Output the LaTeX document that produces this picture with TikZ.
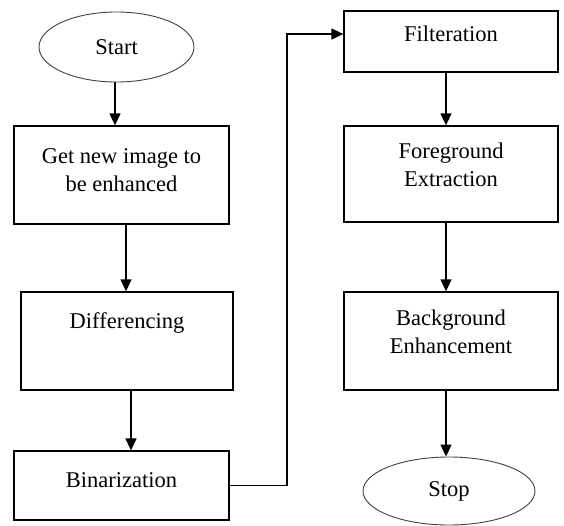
\documentclass[tikz,border=0pt]{standalone}
\usepackage{fontspec}
\setmainfont{Liberation Serif}
\usetikzlibrary{arrows.meta,shapes.geometric}
\tikzset{
  block/.style={rectangle,draw,line width=1.3pt,minimum width=214pt,align=center,
    inner sep=0pt,font=\fontsize{22.5}{28}\selectfont},
  term/.style={ellipse,draw=black!75,line width=0.9pt,inner sep=0pt,
    font=\fontsize{22.5}{28}\selectfont},
  arr/.style={-{Triangle[length=12pt,width=11pt]},line width=1.3pt}
}
\begin{document}
\begin{tikzpicture}[x=1pt,y=-1pt]
        \useasboundingbox (0,0) rectangle (564,525);

        % Left column
        \node[term,minimum width=155pt,minimum height=70pt] (start) at (116.5,47) {Start};
        \node[block,minimum width=215pt,minimum height=98pt,text depth=10pt] (getimg) at (121.5,175) {Get new image to\\be enhanced};
        \node[block,minimum width=212pt,minimum height=98pt,text depth=40pt] (diff) at (127,341) {Differencing};
        \node[block,minimum width=215pt,minimum height=69pt,text depth=10pt] (binar) at (121.5,485.5) {Binarization};

        \draw[arr] ([xshift=-1.5pt]start.south) -- ([xshift=-6.5pt]getimg.north);
        \draw[arr] ([xshift=4.5pt]getimg.south) -- ([xshift=-1pt]diff.north);
        \draw[arr] ([xshift=4pt]diff.south) -- ([xshift=9.5pt]binar.north);

        % Right column
        \node[block,minimum height=61pt,text depth=16pt] (filter) at (451,41.5) {Filteration};
        \node[block,minimum height=96pt,text depth=19pt] (fgext) at (451,174) {Foreground\\Extraction};
        \node[block,minimum height=98pt,text depth=18pt] (bgenh) at (451,341) {Background\\Enhancement};
        \node[term,minimum width=172pt,minimum height=68pt] (stop) at (449,491) {Stop};

        \draw[arr] ([xshift=-5pt]filter.south) -- ([xshift=-5pt]fgext.north);
        \draw[arr] ([xshift=-5pt]fgext.south) -- ([xshift=-5pt]bgenh.north);
        \draw[arr] ([xshift=-5pt]bgenh.south) -- ([xshift=-3pt]stop.north);

        % Binarization to Filteration
        \coordinate (turn) at (287,34);
        \draw[arr] (binar.east) -| (turn) -- (turn -| filter.west);
    \end{tikzpicture}
\end{document}
